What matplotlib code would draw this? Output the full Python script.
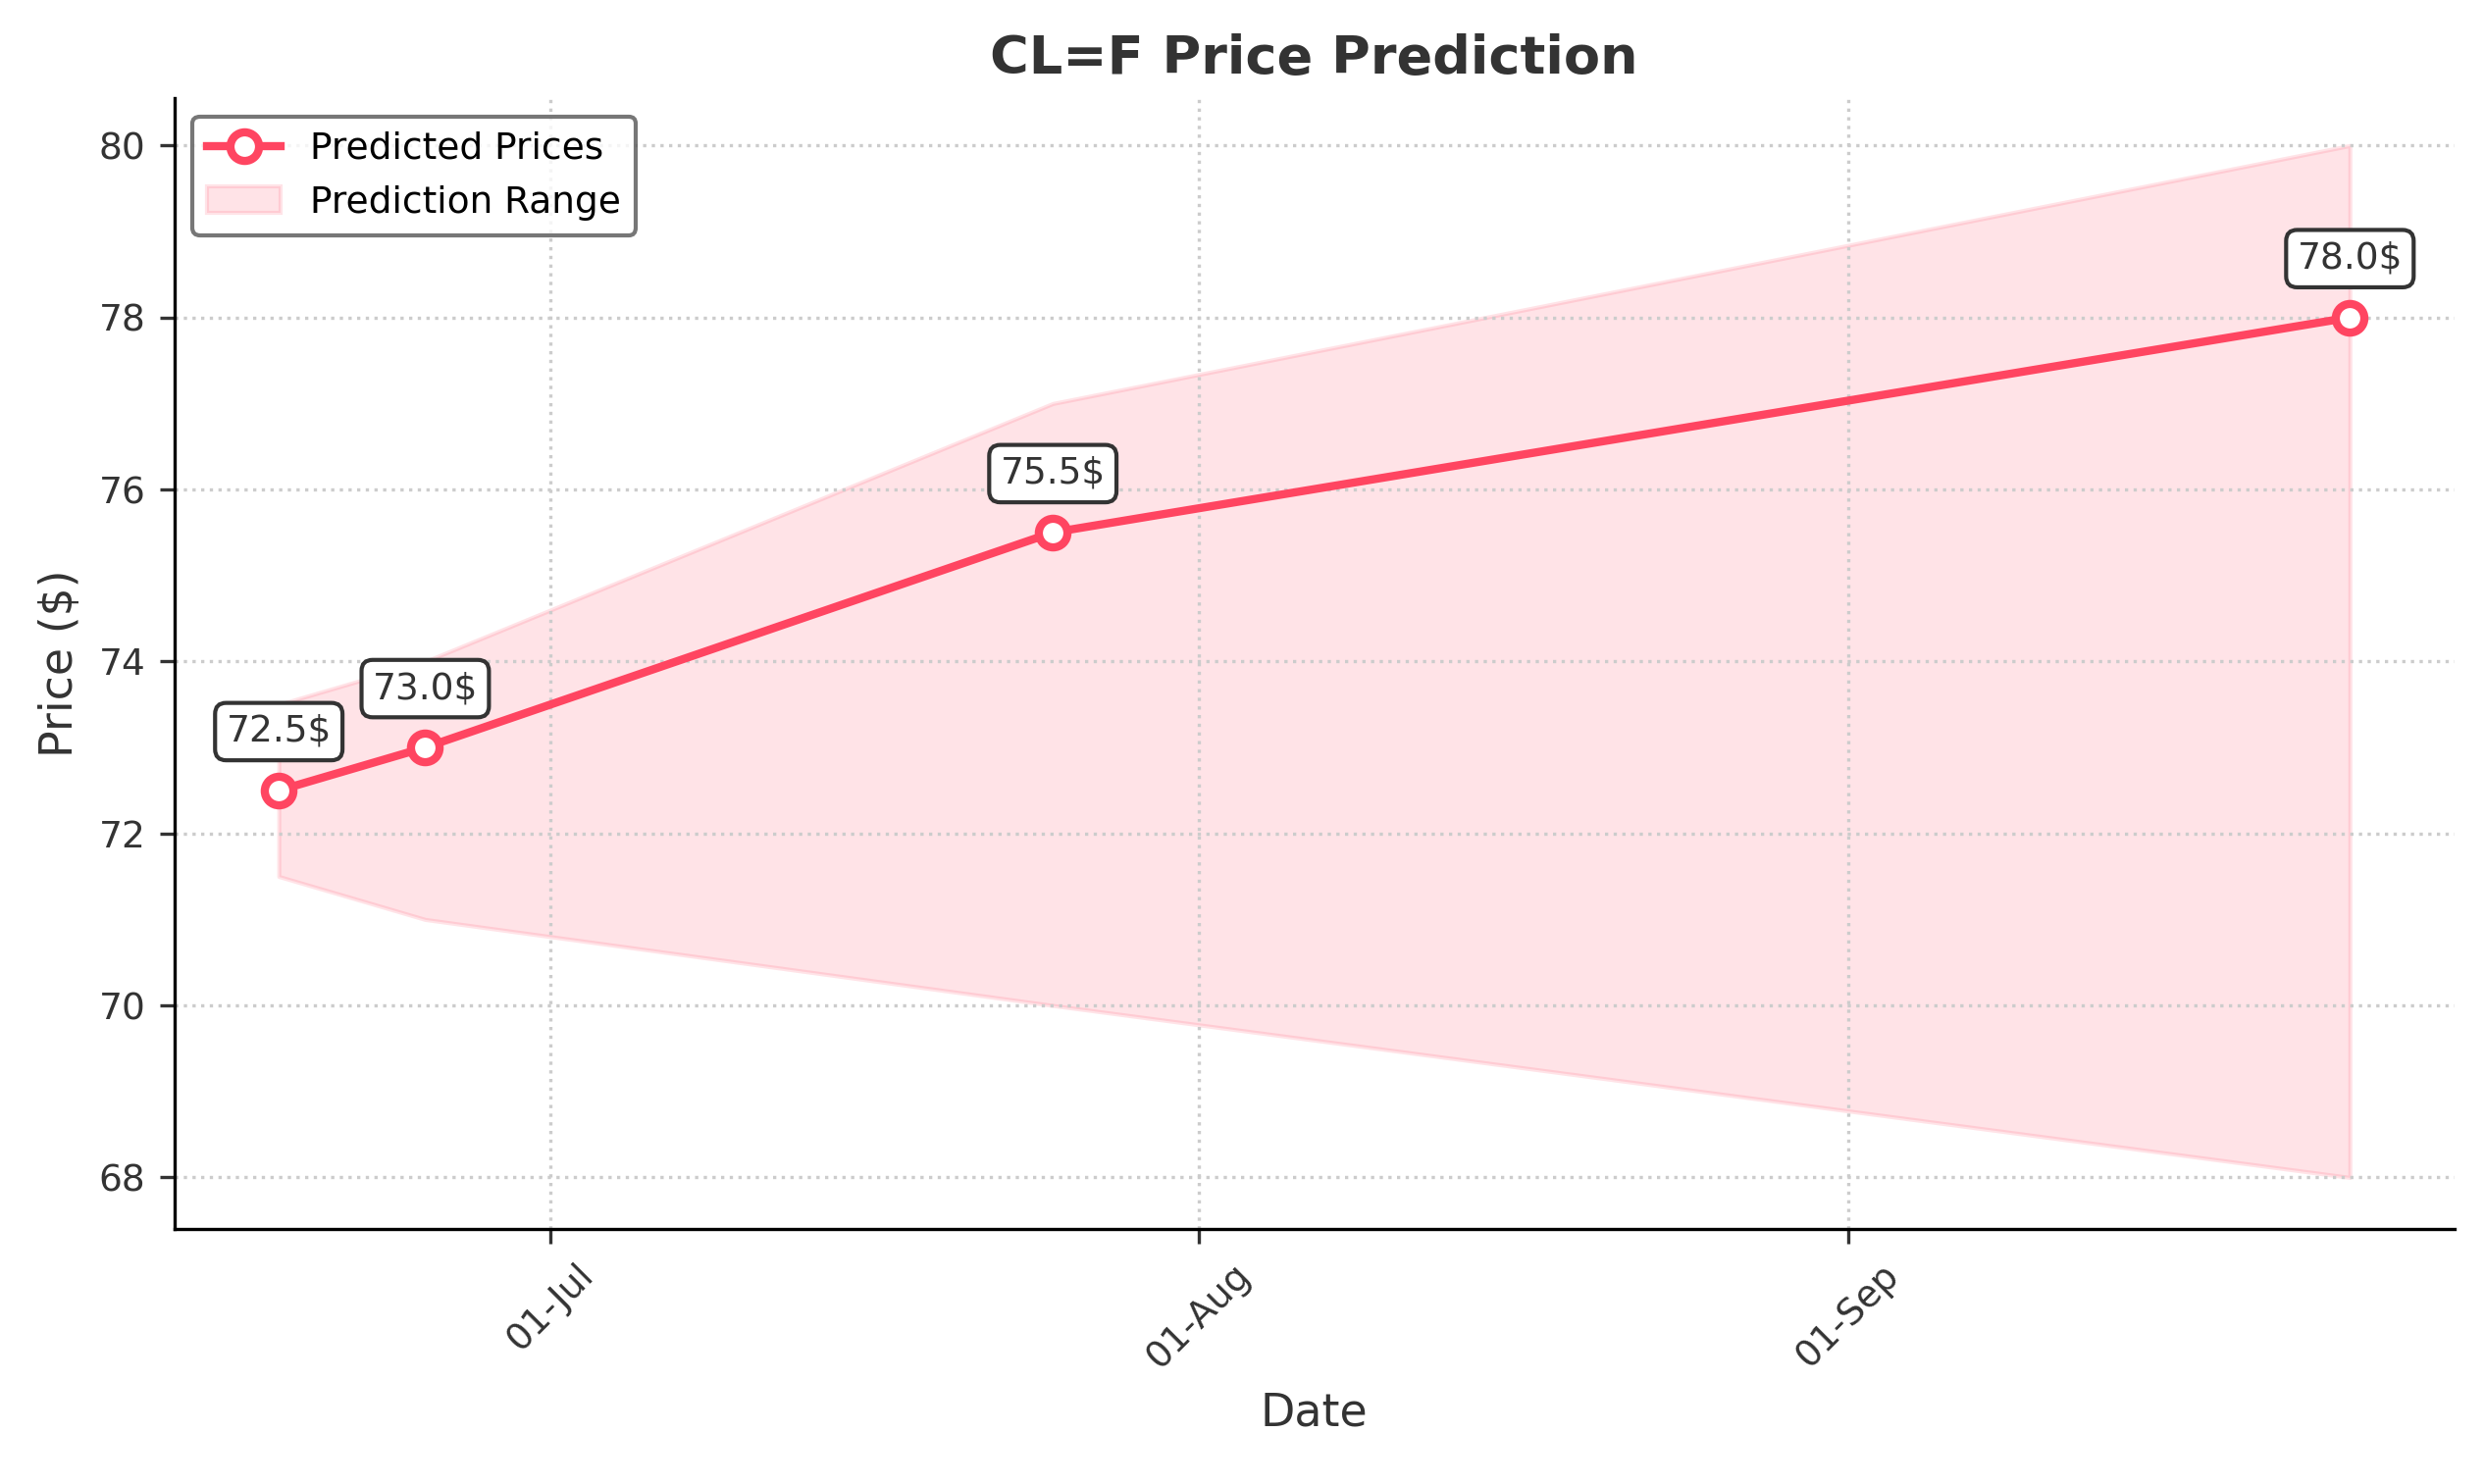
import matplotlib
matplotlib.use("Agg")
import matplotlib.pyplot as plt
import matplotlib.dates as mdates
import pandas as pd

dates = ["2024-06-18", "2024-06-25", "2024-07-25", "2024-09-25"]
prices = [72.5, 73.0, 75.5, 78.0]
lower = [71.5, 71.0, 70.0, 68.0]
upper = [73.5, 74.0, 77.0, 80.0]

d = pd.to_datetime(dates)
color = "#ff4561"
W, H = 1568, 937
fig = plt.figure(figsize=(2531/300, 1513/300), dpi=300)
ax = fig.add_axes([110/W, 1-776/H, 1440/W, (776-62)/H])
ax.fill_between(d, lower, upper, color=color, alpha=0.15, label="Prediction Range")
ax.plot(d, prices, color=color, lw=2, marker="o", ms=7, mfc="white", mew=2, label="Predicted Prices")
for x, y in zip(d, prices):
    ax.annotate(f"{y}$", (x, y), xytext=(0, 12), textcoords="offset points", ha="center", fontsize=9, color="#333333",
                bbox=dict(boxstyle="round,pad=0.3", fc="white", ec="#333333", lw=1))
ax.xaxis.set_major_locator(mdates.MonthLocator())
ax.xaxis.set_major_formatter(mdates.DateFormatter("%d-%b"))
plt.setp(ax.get_xticklabels(), rotation=45, color="#333333")
ax.tick_params(labelsize=9, colors="#333333")
ax.set_yticks([68, 70, 72, 74, 76, 78, 80])
ax.set_ylim(67.4, 80.55)
ax.set_xlim(pd.Timestamp("2024-06-13"), pd.Timestamp("2024-09-30"))
ax.grid(True, ls=":", color="#cccccc")
for s in ["top", "right"]:
    ax.spines[s].set_visible(False)
ax.set_title("CL=F Price Prediction", fontsize=13, fontweight="bold", color="#333333")
ax.set_xlabel("Date", fontsize=11, color="#333333")
ax.set_ylabel("Price ($)", fontsize=11, color="#333333")
h, l = ax.get_legend_handles_labels()
ax.legend(h[::-1], l[::-1], loc="upper left", fontsize=9, edgecolor="#555555")
fig.savefig("out.png", dpi=300)
